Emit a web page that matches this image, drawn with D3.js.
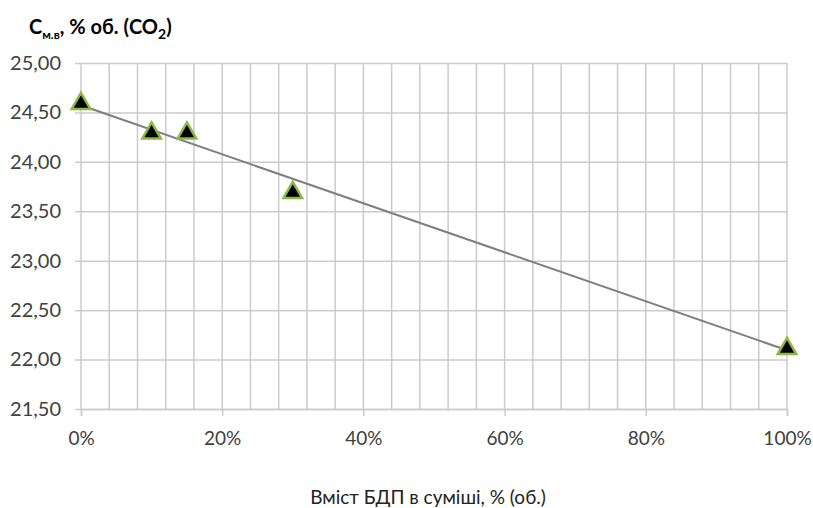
<!DOCTYPE html>
<html>
<head>
<meta charset="utf-8">
<script src="https://cdnjs.cloudflare.com/ajax/libs/d3/7.8.5/d3.min.js"></script>
<style>
  body { margin: 0; background: #fff; }
  text { font-family: "Lato", "Open Sans", sans-serif; fill: #404040; }
</style>
</head>
<body>
<div id="chart"></div>
<script>
// data
var bdpShare = [0, 0.10, 0.15, 0.30, 1.00];
var co2Value = [24.60, 24.30, 24.30, 23.70, 22.12];
var yTicks = [21.5, 22.0, 22.5, 23.0, 23.5, 24.0, 24.5, 25.0];
var xTicks = [0, 0.2, 0.4, 0.6, 0.8, 1.0];
var xGrid = d3.range(0, 26).map(i => i * 0.04);

var svgWidth = 813;
var svgHeight = 508;

var margin = { top: 63, right: 26, bottom: 99, left: 81 };
var width = svgWidth - margin.left - margin.right;
var height = svgHeight - margin.top - margin.bottom;

var svg = d3.select("#chart")
  .append("svg")
  .attr("width", svgWidth)
  .attr("height", svgHeight);

svg.append("rect").attr("width", svgWidth).attr("height", svgHeight).attr("fill", "#fff");

var chart = svg.append("g")
  .attr("transform", `translate(${margin.left}, ${margin.top})`);

var x = d3.scaleLinear().domain([0, 1]).range([0, width]);
var y = d3.scaleLinear().domain([21.5, 25]).range([height, 0]);

var gridColor = "#cbcbcb";

// vertical grid every 4%
chart.append("g")
  .selectAll("line")
  .data(xGrid)
  .enter()
  .append("line")
  .attr("x1", d => x(d)).attr("x2", d => x(d))
  .attr("y1", 0).attr("y2", height)
  .attr("stroke", gridColor)
  .attr("stroke-width", 1.5);

// y axis with full-width grid
var leftAxis = d3.axisLeft(y)
  .tickValues(yTicks)
  .tickSize(-width)
  .tickPadding(20)
  .tickFormat(d => d3.format(".2f")(d).replace(".", ","));

var yAxis = chart.append("g").call(leftAxis);
yAxis.select(".domain").remove();
yAxis.selectAll(".tick line")
  .attr("x1", -6)
  .attr("stroke", gridColor)
  .attr("stroke-width", 1.5);
yAxis.selectAll(".tick text")
  .attr("font-size", "20px")
  .attr("fill", "#404040");

// x axis
var bottomAxis = d3.axisBottom(x)
  .tickValues(xTicks)
  .tickSize(7)
  .tickPadding(16)
  .tickFormat(d3.format(".0%"));

var xAxis = chart.append("g")
  .attr("transform", `translate(0, ${height})`)
  .call(bottomAxis);
xAxis.select(".domain")
  .attr("stroke", gridColor)
  .attr("stroke-width", 1.5);
xAxis.selectAll(".tick line")
  .attr("stroke", gridColor)
  .attr("stroke-width", 1.5);
xAxis.selectAll(".tick text")
  .attr("font-size", "19px")
  .attr("fill", "#404040");

// linear trendline (least squares)
var mx = d3.mean(bdpShare), my = d3.mean(co2Value);
var sxy = d3.sum(bdpShare, (d, i) => (d - mx) * (co2Value[i] - my));
var sxx = d3.sum(bdpShare, d => (d - mx) * (d - mx));
var slope = sxy / sxx;
var icpt = my - slope * mx;

chart.append("line")
  .attr("x1", x(0)).attr("y1", y(icpt))
  .attr("x2", x(1)).attr("y2", y(icpt + slope))
  .attr("stroke", "#7f7f7f")
  .attr("stroke-width", 2);

// triangle markers
var tri = d3.symbol().type(d3.symbolTriangle).size(150);
chart.selectAll(".pt")
  .data(bdpShare)
  .enter()
  .append("path")
  .attr("class", "pt")
  .attr("d", tri)
  .attr("transform", (d, i) => `translate(${x(d)}, ${y(co2Value[i]) + 1})`)
  .attr("fill", "#000")
  .attr("stroke", "#8cb845")
  .attr("stroke-width", 2.5);

// axis titles
var title = svg.append("text")
  .attr("x", 29)
  .attr("y", 34)
  .attr("font-size", "20px")
  .attr("font-weight", "bold")
  .style("fill", "#000");
title.append("tspan").text("C");
title.append("tspan").attr("font-size", "12px").attr("dy", 5).text("м.в");
title.append("tspan").attr("dy", -5).text(", % об. (CO");
title.append("tspan").attr("font-size", "14px").attr("dy", 5).text("2");
title.append("tspan").attr("dy", -5).text(")");

svg.append("text")
  .attr("x", 428)
  .attr("y", 504)
  .attr("text-anchor", "middle")
  .attr("font-size", "19px")
  .style("fill", "#222")
  .text("Вміст БДП в суміші, % (об.)");
</script>
</body>
</html>
